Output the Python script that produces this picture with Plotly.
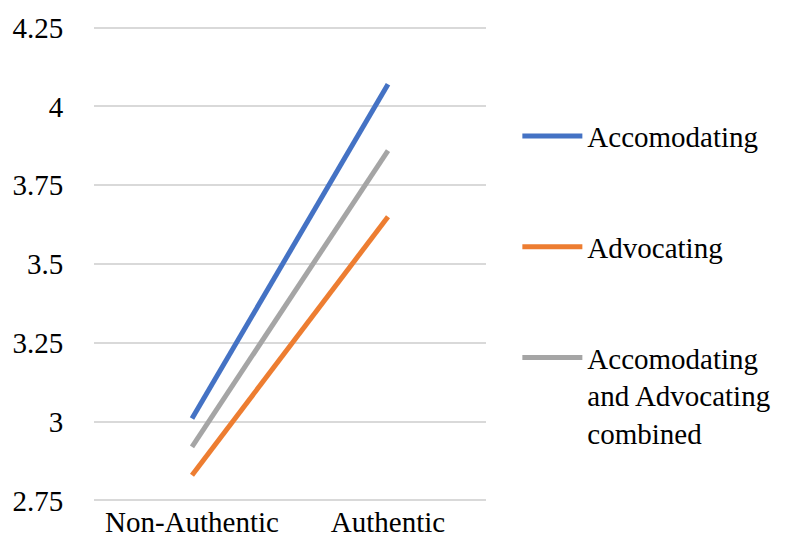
import plotly.graph_objects as go

categories = ["Non-Authentic", "Authentic"]
series_names = ["Accomodating", "Advocating", "Accomodating<br>and Advocating<br>combined"]
accomodating = [3.01, 4.07]
advocating = [2.83, 3.65]
combined = [2.92, 3.86]
colors = ["#4472C4", "#ED7D31", "#A5A5A5"]
y_ticks = [2.75, 3, 3.25, 3.5, 3.75, 4, 4.25]
y_tick_labels = ["2.75", "3", "3.25", "3.5", "3.75", "4", "4.25"]

FONT = "Liberation Serif, Times New Roman, Times, serif"

fig = go.Figure()
for i, (name, vals) in enumerate(zip(series_names, [accomodating, advocating, combined])):
    fig.add_trace(go.Scatter(
        x=categories, y=vals, mode="lines", name=name,
        legendgroup=f"g{i}",
        line=dict(color=colors[i], width=5),
    ))

fig.update_layout(
    width=787, height=550,
    margin=dict(l=90, r=300, t=22, b=44),
    paper_bgcolor="white", plot_bgcolor="white",
    font=dict(family=FONT, size=29, color="black"),
    showlegend=True,
    legend=dict(
        x=1.08, xanchor="left", y=0.822, yanchor="top",
        traceorder="grouped", tracegroupgap=70, valign="top",
        itemwidth=60, font=dict(family=FONT, size=29),
        bgcolor="rgba(0,0,0,0)",
    ),
    xaxis=dict(
        type="category", range=[-0.5, 1.5], showgrid=False, zeroline=False,
        showline=False, ticks="", tickfont=dict(family=FONT, size=29),
    ),
    yaxis=dict(
        range=[2.745, 4.255], tickvals=y_ticks, ticktext=y_tick_labels,
        showgrid=True, gridcolor="#D9D9D9", gridwidth=1.5, zeroline=False,
        showline=False, ticks="outside", ticklen=24, tickcolor="rgba(0,0,0,0)",
        tickfont=dict(family=FONT, size=29),
    ),
)

fig.write_html("out.html")
